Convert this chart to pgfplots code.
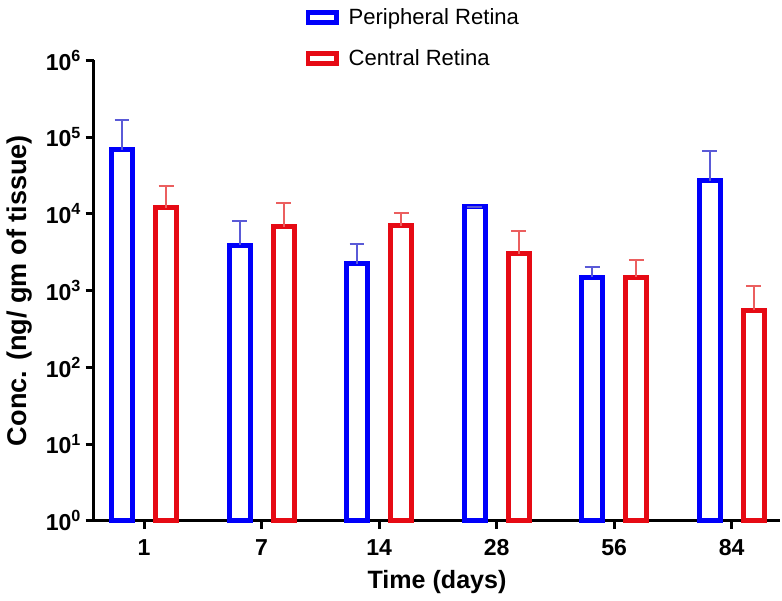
\documentclass[border=0pt]{standalone}
\usepackage{fontspec}
\setmainfont{Liberation Sans}
\usepackage{pgfplots}
\pgfplotsset{compat=1.18}

\definecolor{pblue}{RGB}{0,0,250}
\definecolor{cred}{RGB}{230,10,20}
\definecolor{eblue}{RGB}{90,90,215}
\definecolor{ered}{RGB}{235,95,95}

% x = group index, y = mean, e = upper error
\pgfplotstableread{
x y e
0 68700 99300
1 3930 4170
2 2240 1780
3 12470 0
4 1500 530
5 27000 38200
}\periph
\pgfplotstableread{
x y e
0 12100 11100
1 6760 7300
2 6970 3430
3 3030 2970
4 1500 1030
5 556 579
}\central

\begin{document}
\begin{tikzpicture}
\begin{axis}[
  scale only axis,
  width=342.5pt, height=229.5pt,
  ybar=11.5pt,
  bar width=10.5pt,
  ymode=log,
  ymin=1, ymax=1e6,
  xmin=-0.43, xmax=5.415,
  axis x line*=bottom,
  axis y line*=left,
  axis line style={line width=1.5pt, -},
  tick style={line width=1.5pt, black},
  major tick length=4pt,
  tick align=outside,
  yminorticks=false,
  xtick={0,...,5},
  xticklabels={1,7,14,28,56,84},
  ytick={1,10,100,1000,10000,100000,1000000},
  yticklabels={10\textsuperscript{0},10\textsuperscript{1},10\textsuperscript{2},10\textsuperscript{3},10\textsuperscript{4},10\textsuperscript{5},10\textsuperscript{6}},
  tick label style={font=\bfseries\fontsize{11.5}{13}\selectfont},
  xticklabel style={yshift=-2pt},
  yticklabel style={xshift=1.5pt},
  xlabel={Time (days)},
  ylabel={Conc. (ng/ gm of tissue)},
  label style={font=\bfseries\fontsize{12.5}{14}\selectfont},
  ylabel style={font=\bfseries\fontsize{13.5}{15}\selectfont, yshift=0pt},
  legend style={draw=none, fill=none, at={(0.30,1)}, anchor=south west,
    yshift=-8pt, font=\fontsize{11}{13}\selectfont, row sep=7pt, column sep=3pt},
  legend cell align=left,
  clip=false,
]
\addplot[draw=pblue, fill=white, line width=2.5pt,
  legend image code/.code={\draw[draw=pblue, fill=white, line width=2.2pt] (0pt,-2.5pt) rectangle (14pt,2.5pt);},
  error bars/.cd, y dir=plus, y explicit,
  error bar style={line width=1pt, eblue},
  error mark options={line width=1pt, eblue, mark size=3.7pt, rotate=90}]
  table[x=x, y=y, y error=e] {\periph};
\addplot[draw=cred, fill=white, line width=2.5pt,
  legend image code/.code={\draw[draw=cred, fill=white, line width=2.2pt] (0pt,-2.5pt) rectangle (14pt,2.5pt);},
  error bars/.cd, y dir=plus, y explicit,
  error bar style={line width=1pt, ered},
  error mark options={line width=1pt, ered, mark size=3.7pt, rotate=90}]
  table[x=x, y=y, y error=e] {\central};
\legend{Peripheral Retina, Central Retina}
\end{axis}
\end{tikzpicture}
\end{document}
